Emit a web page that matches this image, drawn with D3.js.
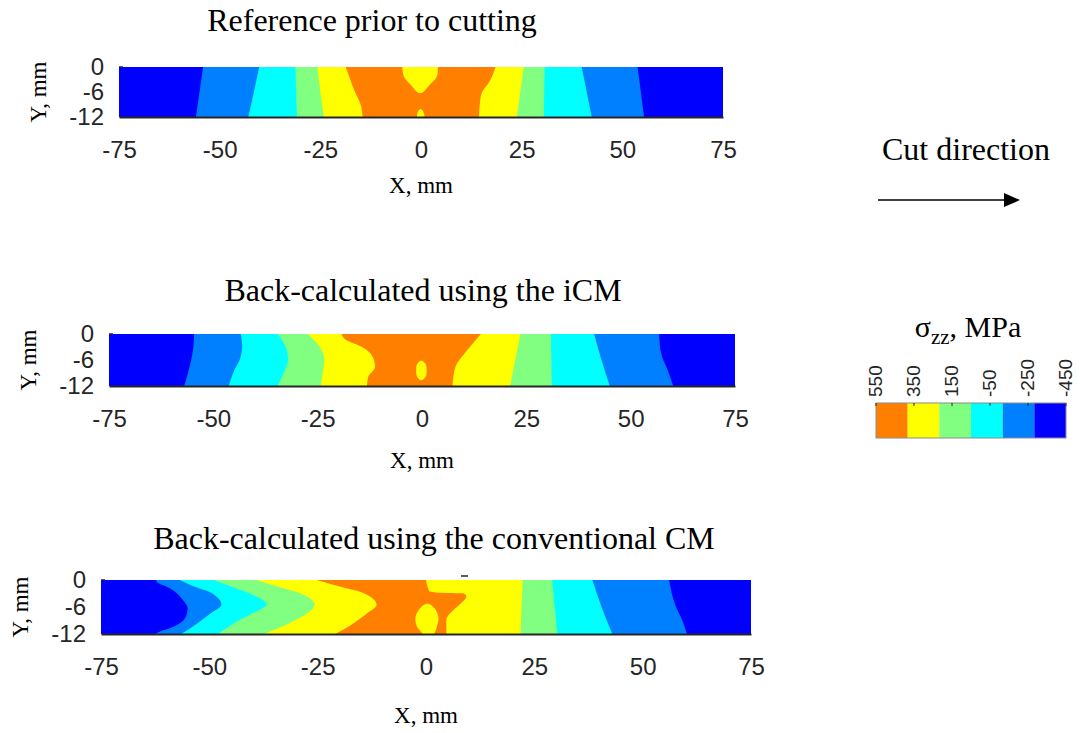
<!DOCTYPE html>
<html><head><meta charset="utf-8">
<script src="https://cdn.jsdelivr.net/npm/d3@7"></script>
<style>body{margin:0;background:#fff}svg{display:block}</style>
</head><body>
<svg id="c" width="1080" height="733"></svg>
<script>
// ---------- data ----------
const xTicks = [-75, -50, -25, 0, 25, 50, 75];
const yTicks = [0, -6, -12];
const levels = [550, 350, 150, -50, -250, -450];
const levelColors = ["#FF8000", "#FFFF00", "#80FF80", "#00FFFF", "#0080FF", "#0000FF"];
// band sequence left->right as indices into levels
const bandSeq = [5, 4, 3, 2, 1, 0, 1, 2, 3, 4, 5];

// boundaries: arrays of [y, x] (mm), left to right
const refBounds = [
  [[0,-54.1],[-6,-55.0],[-12,-55.9]],
  [[0,-40.2],[-6,-41.5],[-12,-42.9]],
  [[0,-31.2],[-6,-31.0],[-12,-30.8]],
  [[0,-25.7],[-6,-25.0],[-12,-24.1]],
  [[0,-18.7],[-2.4,-17.8],[-6,-16.4],[-9,-15.0],[-12,-14.5]],
  [[0,18.5],[-3.2,17.2],[-6.5,15.0],[-9,14.6],[-12,14.4]],
  [[0,25.5],[-12,23.8]],
  [[0,30.7],[-12,30.5]],
  [[0,39.9],[-12,42.4]],
  [[0,53.8],[-12,55.4]]
];
// islands: arrays of [x, y], with level index
const refIslands = [
  {lev: 1, pts: [[-4.65,0.5],[-4.65,0],[-4.2,-2.4],[-2.8,-4.0],[-0.2,-6.3],[2.4,-4.0],[3.9,-2.4],[4.2,0],[4.2,0.5]]},
  {lev: 1, pts: [[-1.0,-12.5],[-1.0,-12],[-0.8,-10.8],[-0.1,-10.1],[0.6,-10.8],[0.9,-12],[0.9,-12.5]]}
];

const icmBounds = [
  [[0,-54.6],[-4.5,-55.0],[-7.6,-55.7],[-12,-57.0]],
  [[0,-43.4],[-2.9,-43.1],[-6,-43.7],[-8.4,-45.0],[-12,-46.3]],
  [[0,-34.6],[-2.9,-32.7],[-6,-32.1],[-9.1,-33.2],[-12,-34.6]],
  [[0,-27.3],[-2.9,-24.6],[-6,-23.4],[-9.1,-23.8],[-12,-24.3]],
  [[0,-19.3],[-1.4,-18.2],[-2.9,-14.6],[-5.3,-11.8],[-7.6,-11.25],[-9.9,-12.9],[-12,-13.2]],
  [[0,14.1],[-1.4,12.9],[-4.5,10.2],[-7.6,8.0],[-12,7.3]],
  [[0,23.6],[-12,21.1]],
  [[0,30.9],[-12,31.1]],
  [[0,41.25],[-6,43.0],[-12,45.0]],
  [[0,56.8],[-4.5,57.3],[-8.4,58.9],[-12,60.2]]
];
const icmIslands = [
  {lev: 1, pts: [[-0.2,-6.1],[0.9,-7.0],[1.1,-8.4],[0.9,-9.8],[-0.2,-10.7],[-1.2,-9.8],[-1.4,-8.4],[-1.2,-7.0]]}
];

const cmBounds = [
  [[0,-62.3],[-0.4,-62.15],[-1.85,-59.1],[-4.1,-56.4],[-6.3,-55.0],[-8.5,-55.6],[-10.4,-58.3],[-11.85,-62.15],[-12,-62.3]],
  [[0,-56.8],[-1.35,-53.8],[-2.85,-49.6],[-5.5,-47.2],[-7.35,-49.6],[-9.6,-52.7],[-12,-56.5]],
  [[0,-49.0],[-1.35,-45.3],[-2.85,-41.1],[-5.5,-36.8],[-7.35,-40.0],[-9.6,-44.3],[-12,-48.0]],
  [[0,-39.2],[-1.35,-34.7],[-2.85,-29.4],[-5.5,-25.7],[-7.35,-27.3],[-9.6,-31.5],[-12,-37.4]],
  [[0,-25.2],[-1.35,-20.4],[-2.85,-14.6],[-5.5,-11.4],[-7.35,-13.5],[-9.6,-16.7],[-12,-20.9]],
  [[0,0.0],[-1.35,0.3],[-2.5,0.8],[-2.85,3.5],[-3.0,8.7],[-3.6,9.3],[-5.5,7.7],[-7.35,5.6],[-8.85,4.7],[-12,4.7]],
  [[0,22.3],[-12,21.8]],
  [[0,29.1],[-12,30.3]],
  [[0,38.4],[-6,40.5],[-12,43.0]],
  [[0,56.1],[-5.5,57.5],[-9.6,59.4],[-12,60.2]]
];
const cmIslands = [
  {lev: 1, pts: [[0.5,-5.25],[2.2,-6.6],[2.9,-8.5],[2.4,-10.7],[1.9,-12],[1.9,-12.5],[-0.8,-12.5],[-0.8,-12],[-2.1,-10.35],[-2.4,-8.1],[-1.3,-6.2]]}
];

const titles = ["Reference prior to cutting", "Back-calculated using the iCM", "Back-calculated using the conventional CM"];

// ---------- layout ----------
const panels = [
  {bounds: refBounds, islands: refIslands, title: titles[0], L:119, R:723, T:67, B:117, tx:372, ty:31, xl:185},
  {bounds: icmBounds, islands: icmIslands, title: titles[1], L:109, R:735, T:334, B:386, tx:423, ty:301, xl:460},
  {bounds: cmBounds, islands: cmIslands, title: titles[2], L:101, R:751, T:580, B:634, tx:434, ty:549, xl:715}
];

const svg = d3.select("#c");
const defs = svg.append("defs");
const tickFont = "'Liberation Sans', Arial, sans-serif";
const serif = "'Liberation Serif', 'Times New Roman', serif";
const ink = "#262626";
const fmt = d => String(d);

panels.forEach((p, pi) => {
  const xs = d3.scaleLinear().domain([-75, 75]).range([p.L, p.R]);
  const ys = d3.scaleLinear().domain([0, -12]).range([p.T, p.B]);
  const cid = "clip" + pi;
  defs.append("clipPath").attr("id", cid).append("rect")
    .attr("x", p.L).attr("y", p.T).attr("width", p.R - p.L).attr("height", p.B - p.T);
  const g = svg.append("g").attr("clip-path", `url(#${cid})`);
  g.append("rect").attr("x", p.L).attr("y", p.T).attr("width", p.R - p.L).attr("height", p.B - p.T)
    .attr("fill", levelColors[bandSeq[bandSeq.length - 1]]);
  const area = d3.area().y(d => ys(d[0])).x0(xs(-75)).x1(d => xs(d[1])).curve(d3.curveMonotoneY);
  for (let k = p.bounds.length - 1; k >= 0; k--) {
    g.append("path").attr("d", area(p.bounds[k])).attr("fill", levelColors[bandSeq[k]]);
  }
  const line = d3.line().x(d => xs(d[0])).y(d => ys(d[1])).curve(d3.curveCatmullRomClosed.alpha(0.5));
  p.islands.forEach(isl => {
    g.append("path").attr("d", line(isl.pts)).attr("fill", levelColors[isl.lev]);
  });

  // axes
  const ax = svg.append("g").attr("transform", `translate(0,${p.B})`)
    .call(d3.axisBottom(xs).tickValues(xTicks).tickSize(0).tickPadding(24).tickFormat(fmt));
  ax.select(".domain").attr("stroke", ink).attr("stroke-width", 2);
  ax.selectAll("text").attr("font-family", tickFont).attr("font-size", 24).attr("fill", ink);
  const ay = svg.append("g").attr("transform", `translate(${p.L},0)`)
    .call(d3.axisLeft(ys).tickValues(yTicks).tickSize(0).tickPadding(15).tickFormat(fmt));
  ay.select(".domain").remove();
  ay.selectAll("text").attr("font-family", tickFont).attr("font-size", 24).attr("fill", ink);
  svg.append("line").attr("x1", p.L).attr("x2", p.L + 4).attr("y1", p.T).attr("y2", p.T)
    .attr("stroke", ink).attr("stroke-width", 1.5);

  svg.append("text").attr("x", p.tx).attr("y", p.ty).attr("text-anchor", "middle")
    .attr("font-family", serif).attr("font-size", 32).text(p.title);
  svg.append("text").attr("x", (p.L + p.R) / 2).attr("y", p.xl + 8).attr("text-anchor", "middle")
    .attr("font-family", serif).attr("font-size", 23).text("X, mm");
  svg.append("text").attr("transform", `translate(${p.L - 81 + 8},${(p.T + p.B) / 2}) rotate(-90)`)
    .attr("text-anchor", "middle").attr("font-family", serif).attr("font-size", 23).text("Y, mm");
});

// small mark at the top edge of the last panel
svg.append("line").attr("x1", 461).attr("x2", 468).attr("y1", 576).attr("y2", 576)
  .attr("stroke", ink).attr("stroke-width", 1.5);

// cut direction
svg.append("text").attr("x", 966).attr("y", 160).attr("text-anchor", "middle")
  .attr("font-family", serif).attr("font-size", 32).text("Cut direction");
svg.append("line").attr("x1", 878).attr("x2", 1010).attr("y1", 200).attr("y2", 200)
  .attr("stroke", "#000").attr("stroke-width", 1.6);
svg.append("path").attr("d", "M1004,193L1020,200L1004,207Z").attr("fill", "#000");

// colorbar
const cb = d3.scaleLinear().domain([550, -450]).range([876, 1066]);
const cbT = 403, cbB = 438;
const step = (550 - (-450)) / levelColors.length;
levelColors.forEach((c, i) => {
  svg.append("rect").attr("x", cb(550 - i * step)).attr("y", cbT)
    .attr("width", cb(550 - (i + 1) * step) - cb(550 - i * step)).attr("height", cbB - cbT).attr("fill", c);
});
svg.append("rect").attr("x", 876).attr("y", cbT).attr("width", 190).attr("height", cbB - cbT)
  .attr("fill", "none").attr("stroke", "#8c8c8c").attr("stroke-width", 1);
levels.forEach(v => {
  svg.append("line").attr("x1", cb(v)).attr("x2", cb(v)).attr("y1", cbT).attr("y2", cbT + 3)
    .attr("stroke", ink).attr("stroke-width", 1);
  svg.append("text").attr("transform", `translate(${cb(v) + 6},397) rotate(-90)`)
    .attr("font-family", tickFont).attr("font-size", 19).attr("fill", ink).text(fmt(v));
});
const lab = svg.append("text").attr("x", 968).attr("y", 337).attr("text-anchor", "middle")
  .attr("font-family", serif).attr("font-size", 30);
lab.append("tspan").text("σ");
lab.append("tspan").attr("font-size", 21).attr("dy", 7).text("zz");
lab.append("tspan").attr("dy", -7).text(", MPa");
</script>
</body></html>
